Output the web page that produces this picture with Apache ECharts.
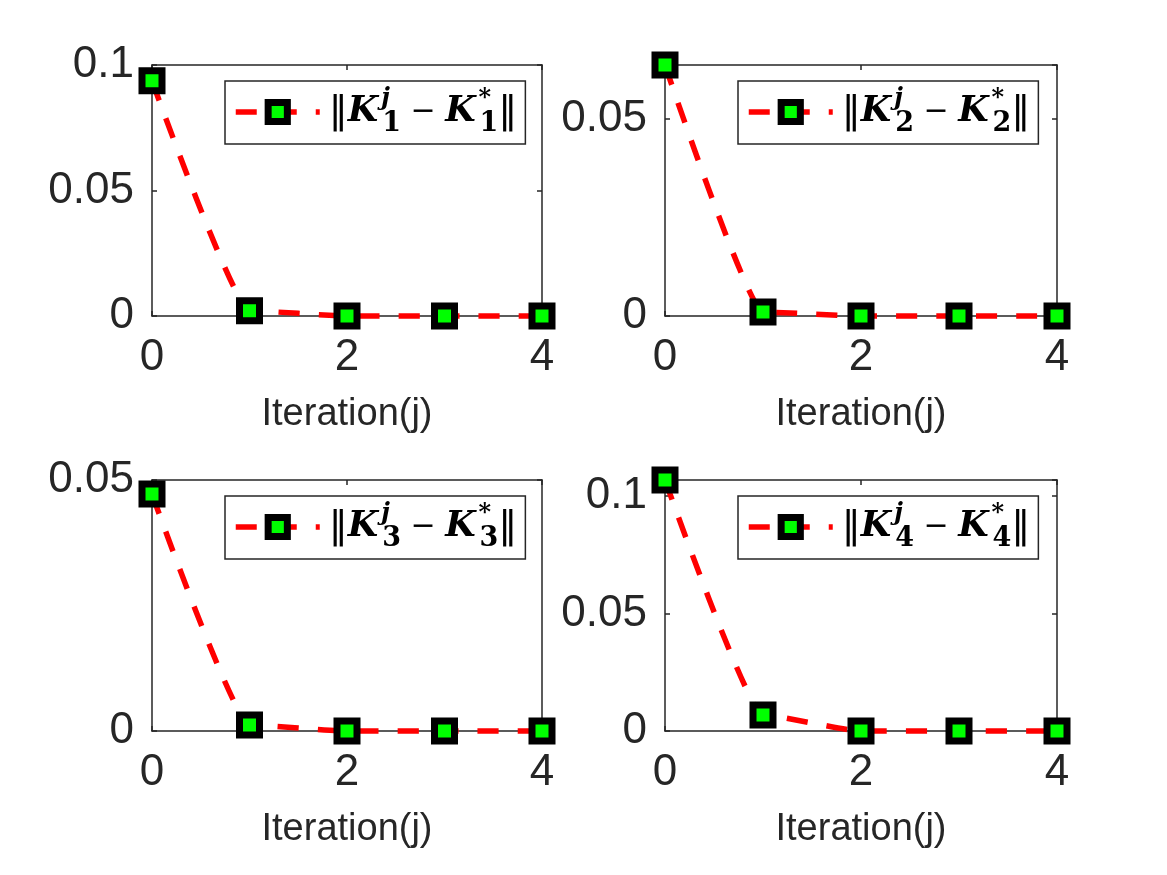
<!DOCTYPE html>
<html>
<head>
<meta charset="utf-8">
<script src="https://cdn.jsdelivr.net/npm/echarts@6/dist/echarts.min.js"></script>
<style>
  html, body { margin: 0; padding: 0; background: #fff; }
  #chart { width: 1167px; height: 875px; }
</style>
</head>
<body>
<div id="chart"></div>
<script>
// iterations j and the error ||K_i^j - K_i^*|| for each gain
var iterations = [0, 1, 2, 3, 4];
var err1 = [0.0937, 0.0021, 0, 0, 0];
var err2 = [0.0635, 0.0010, 0, 0, 0];
var err3 = [0.0472, 0.0012, 0, 0, 0];
var err4 = [0.1068, 0.0068, 0, 0, 0];
var allErr = [err1, err2, err3, err4];
var yMax = [0.1, 0.0635, 0.05, 0.1068];
var xLabel = 'Iteration(j)';

var chart = echarts.init(document.getElementById('chart'));

// subplot boxes (pixels)
var boxes = [
    { left: 152, top: 65, width: 390, height: 251 },
    { left: 665, top: 65, width: 392, height: 251 },
    { left: 152, top: 480, width: 390, height: 251 },
    { left: 665, top: 480, width: 392, height: 251 }
];

var axisColor = '#262626';
var grids = [], xAxes = [], yAxes = [], series = [], legends = [];

var richStyles = {
    p: { fontFamily: 'DejaVu Sans', fontSize: 38, lineHeight: 50, color: '#000', padding: [0, 0, 0, 4] },
    n: { fontFamily: 'DejaVu Sans', fontSize: 38, lineHeight: 50, color: '#000' },
    k: { fontFamily: 'DejaVu Serif', fontStyle: 'italic', fontWeight: 'bold', fontSize: 35, lineHeight: 50, color: '#000' },
    sup: { fontFamily: 'DejaVu Serif', fontStyle: 'italic', fontWeight: 'bold', fontSize: 24, lineHeight: 24, verticalAlign: 'top', width: 1, color: '#000', padding: [0, 0, 0, 3] },
    sub: { fontFamily: 'DejaVu Serif', fontWeight: 'bold', fontSize: 27, lineHeight: 28, verticalAlign: 'bottom', color: '#000' },
    m: { fontFamily: 'DejaVu Sans', fontSize: 30, lineHeight: 50, color: '#000' }
};

for (let i = 0; i < 4; i++) {
    var b = boxes[i];
    var name = 'K' + (i + 1);
    grids.push({ left: b.left, top: b.top, width: b.width, height: b.height, outerBoundsMode: 'none' });

    // bottom x axis with labels
    xAxes.push({
        type: 'value', gridIndex: i, position: 'bottom',
        min: 0, max: 4, interval: 2,
        name: xLabel, nameLocation: 'middle', nameGap: 80,
        nameTextStyle: { fontFamily: 'Liberation Sans', fontSize: 38, color: axisColor },
        axisLine: { onZero: false, lineStyle: { color: axisColor, width: 1.5 } },
        axisTick: { inside: true, length: 5, lineStyle: { color: axisColor, width: 1.5 } },
        axisLabel: { fontFamily: 'Liberation Sans', fontSize: 44, color: axisColor, margin: 20 },
        splitLine: { show: false }
    });
    // top x axis, box only
    xAxes.push({
        type: 'value', gridIndex: i, position: 'top',
        min: 0, max: 4, interval: 2,
        axisLine: { onZero: false, lineStyle: { color: axisColor, width: 1.5 } },
        axisTick: { inside: true, length: 5, lineStyle: { color: axisColor, width: 1.5 } },
        axisLabel: { show: false },
        splitLine: { show: false }
    });
    // left y axis with labels
    yAxes.push({
        type: 'value', gridIndex: i, position: 'left',
        min: 0, max: yMax[i], interval: 0.05,
        axisLine: { show: true, onZero: false, lineStyle: { color: axisColor, width: 1.5 } },
        axisTick: { show: true, inside: true, length: 5, lineStyle: { color: axisColor, width: 1.5 } },
        axisLabel: {
            fontFamily: 'Liberation Sans', fontSize: 44, color: axisColor, margin: 18,
            showMaxLabel: (i === 0 || i === 2)
        },
        splitLine: { show: false }
    });
    // right y axis, box only
    yAxes.push({
        type: 'value', gridIndex: i, position: 'right',
        min: 0, max: yMax[i], interval: 0.05,
        axisLine: { show: true, onZero: false, lineStyle: { color: axisColor, width: 1.5 } },
        axisTick: { show: true, inside: true, length: 5, lineStyle: { color: axisColor, width: 1.5 } },
        axisLabel: { show: false },
        splitLine: { show: false }
    });

    series.push({
        name: name,
        type: 'line',
        xAxisIndex: i * 2,
        yAxisIndex: i * 2,
        data: iterations.map(function (x, j) { return [x, allErr[i][j]]; }),
        smooth: 0.15,
        smoothMonotone: 'x',
        symbol: 'rect',
        symbolSize: 20,
        clip: false,
        z: 5,
        lineStyle: { color: '#ff0000', width: 5.5, type: [21, 19] },
        itemStyle: { color: '#00ff00', borderColor: '#000', borderWidth: 7 }
    });

    let idx = i + 1;
    legends.push({
        data: [name],
        left: b.left + 73,
        top: b.top + 16,
        orient: 'horizontal',
        selectedMode: false,
        itemWidth: 84,
        itemHeight: 24,
        padding: [6, 8, 7, 8],
        borderColor: axisColor,
        borderWidth: 1.5,
        backgroundColor: '#fff',
        lineStyle: { color: '#ff0000', width: 5.5, type: [21, 19] },
        itemStyle: { color: '#00ff00', borderColor: '#000', borderWidth: 7 },
        formatter: function () {
            return '{p|‖}{k|K}{sup|j}{sub|' + idx + '}{m| − }{k|K}{sup|*}{sub|' + idx + '}{n|‖}';
        },
        textStyle: { rich: richStyles }
    });
}

var option = {
    backgroundColor: '#fff',
    animation: false,
    grid: grids,
    xAxis: xAxes,
    yAxis: yAxes,
    legend: legends,
    series: series
};
chart.setOption(option);
</script>
</body>
</html>
